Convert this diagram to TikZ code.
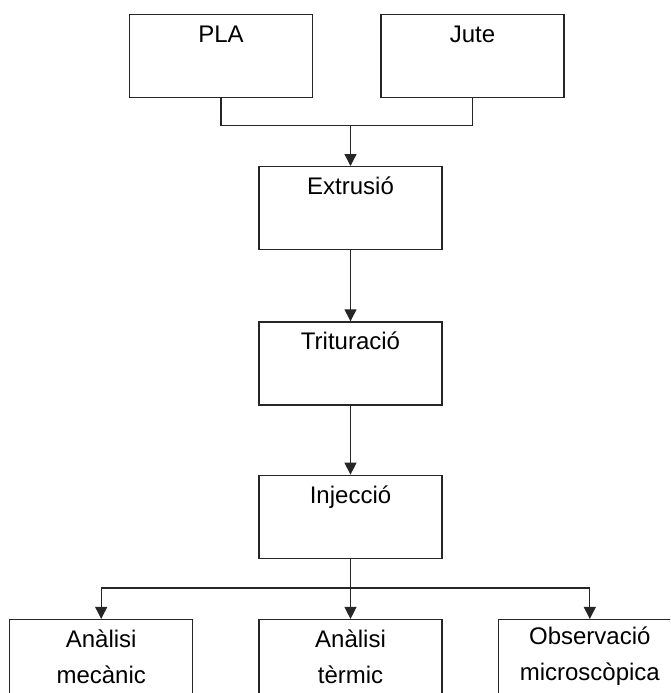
\documentclass[tikz,border=0pt]{standalone}
\usepackage{fontspec}
\setmainfont{Liberation Sans}
\usetikzlibrary{arrows.meta,positioning}
\tikzset{
  stepbox/.style = {rectangle, draw=black!85, line width=1.3pt, anchor=north,
                    minimum width=183pt, inner xsep=0pt, inner ysep=0pt,
                    text height=28pt, text depth=55pt,
                    font=\fontsize{24}{36}\selectfont},
  endbox/.style  = {rectangle, draw=black!85, line width=1.3pt, anchor=north,
                    minimum width=183pt, minimum height=74pt, inner sep=0pt,
                    align=center, font=\fontsize{24}{36}\selectfont},
  arr/.style     = {-{Triangle[length=12pt,width=12pt]}, line width=1.3pt, draw=black!85},
  lnk/.style     = {line width=1.3pt, draw=black!85},
}
\begin{document}
\begin{tikzpicture}[x=1pt, y=1pt]
\useasboundingbox (0,0) rectangle (670,-693);
\clip (0,0) rectangle (670,-693);

%% raw materials
\node[stepbox] (pla)  at (221,-14)   {PLA};
\node[stepbox] (jute) at (472.5,-14) {Jute};

%% process chain
\node[stepbox] (extr) at (350.5,-166) {Extrusió};
\node[stepbox, below=71pt of extr] (trit) {Trituració};
\node[stepbox, below=69pt of trit] (inje) {Injecció};

%% analyses
\node[endbox, below=60pt of inje] (term)  {Anàlisi\\tèrmic};
\node[endbox, left=65pt of term]  (mec)   {Anàlisi\\mecànic};
\node[endbox, right=55pt of term] (micro) {Observació\\microscòpica};

%% connectors
\path (pla.south) ++(0,-27) coordinate (merge);
\draw[lnk] (pla.south) -- (merge) -| (jute.south);
\draw[arr] (merge -| extr.north) -- (extr.north);
\draw[arr] (extr) -- (trit);
\draw[arr] (trit) -- (inje);
\path (inje.south) ++(0,-29) coordinate (split);
\draw[lnk] (inje.south) -- (split);
\draw[arr] (split) -| (mec.north);
\draw[arr] (split) -- (term.north);
\draw[arr] (split) -| (micro.north);

\end{tikzpicture}
\end{document}
